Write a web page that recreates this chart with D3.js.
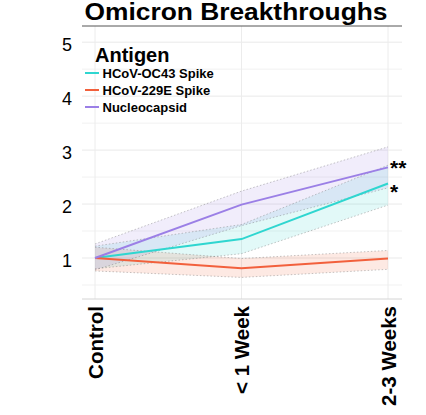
<!DOCTYPE html>
<html>
<head>
<meta charset="utf-8">
<script src="https://cdn.jsdelivr.net/npm/d3@7"></script>
<style>
  html, body { margin: 0; padding: 0; background: #fff; }
  svg { display: block; font-family: "Liberation Sans", Arial, sans-serif; }
</style>
</head>
<body>
<svg id="chart" width="426" height="415"></svg>
<script>
// Time points after infection
const categories = ["Control", "< 1 Week", "2-3 Weeks"];

// Fold change (mean) per antigen
const oc43Mean = [1.0, 1.35, 2.38];
const e229Mean = [1.0, 0.81, 0.99];
const ncMean   = [1.0, 1.99, 2.68];

// Confidence band bounds per antigen
const oc43Lower = [0.80, 1.08, 1.98];
const oc43Upper = [1.22, 1.62, 2.72];
const e229Lower = [0.76, 0.64, 0.79];
const e229Upper = [1.20, 0.99, 1.14];
const ncLower   = [0.78, 1.60, 2.30];
const ncUpper   = [1.26, 2.24, 3.06];

const seriesNames = ["HCoV-OC43 Spike", "HCoV-229E Spike", "Nucleocapsid"];
const seriesColors = ["#2fd6d0", "#f2603c", "#9b7fe6"];
const significance = ["*", "", "**"];

const yTicks = [1, 2, 3, 4, 5];

const series = [
  { name: seriesNames[0], color: seriesColors[0], mean: oc43Mean, lo: oc43Lower, hi: oc43Upper, sig: significance[0], nudge: 15 },
  { name: seriesNames[1], color: seriesColors[1], mean: e229Mean, lo: e229Lower, hi: e229Upper, sig: significance[1], nudge: 0 },
  { name: seriesNames[2], color: seriesColors[2], mean: ncMean,   lo: ncLower,   hi: ncUpper,   sig: significance[2], nudge: 8 }
];

const svg = d3.select("#chart");
const plot = { left: 82, right: 402, top: 26, bottom: 299 };

const x = d3.scalePoint().domain(categories).range([95, 388]);
const y = d3.scaleLinear().domain([0.24, 5.3]).range([plot.bottom, plot.top]);

// Grid
const grid = svg.append("g");
grid.selectAll("line.h")
  .data(d3.range(0.5, 5.01, 0.5))
  .join("line")
  .attr("x1", plot.left).attr("x2", plot.right)
  .attr("y1", d => y(d)).attr("y2", d => y(d))
  .attr("stroke", d => Number.isInteger(d) ? "#e9e9e9" : "#f1f1f1")
  .attr("stroke-width", 1);
grid.selectAll("line.v")
  .data(categories)
  .join("line")
  .attr("x1", d => x(d)).attr("x2", d => x(d))
  .attr("y1", plot.top).attr("y2", plot.bottom)
  .attr("stroke", "#ececec")
  .attr("stroke-width", 1);

// Frame lines
svg.append("line")
  .attr("x1", plot.left).attr("x2", plot.right)
  .attr("y1", plot.top).attr("y2", plot.top)
  .attr("stroke", "#555").attr("stroke-width", 1);
svg.append("line")
  .attr("x1", plot.left).attr("x2", plot.right)
  .attr("y1", plot.bottom).attr("y2", plot.bottom)
  .attr("stroke", "#d4d4d4").attr("stroke-width", 1);

// Bands
const area = d3.area()
  .x((d, i) => x(categories[i]))
  .y0(d => y(d[0]))
  .y1(d => y(d[1]));
const edge = d3.line()
  .x((d, i) => x(categories[i]))
  .y(d => y(d));

const bands = svg.append("g");
series.forEach(s => {
  const pts = s.lo.map((v, i) => [v, s.hi[i]]);
  bands.append("path")
    .attr("d", area(pts))
    .attr("fill", s.color)
    .attr("fill-opacity", 0.14);
});
series.forEach(s => {
  [s.lo, s.hi].forEach(b => {
    bands.append("path")
      .attr("d", edge(b))
      .attr("fill", "none")
      .attr("stroke", "#666")
      .attr("stroke-opacity", 0.55)
      .attr("stroke-width", 0.7)
      .attr("stroke-dasharray", "1.5,2");
  });
});

// Mean lines
const line = d3.line()
  .x((d, i) => x(categories[i]))
  .y(d => y(d));
svg.append("g").selectAll("path")
  .data(series)
  .join("path")
  .attr("d", s => line(s.mean))
  .attr("fill", "none")
  .attr("stroke", s => s.color)
  .attr("stroke-width", 2);

// Significance marks
svg.append("g").selectAll("text")
  .data(series.filter(s => s.sig))
  .join("text")
  .attr("x", x(categories[2]) + 2)
  .attr("y", s => y(s.mean[2]) + s.nudge)
  .attr("font-size", 21)
  .attr("font-weight", "bold")
  .attr("fill", "#000")
  .text(s => s.sig);

// Y axis labels
const yAxis = svg.append("g")
  .attr("transform", `translate(${plot.left},0)`)
  .call(d3.axisLeft(y).tickValues(yTicks).tickSize(0).tickPadding(10).tickFormat(d3.format("d")));
yAxis.select(".domain").remove();
yAxis.selectAll("text")
  .attr("font-size", 18)
  .attr("font-family", "'Liberation Sans', Arial, sans-serif")
  .attr("fill", "#000")
  .attr("dy", "0.45em");

// X axis labels
const xAxis = svg.append("g")
  .attr("transform", `translate(0,${plot.bottom})`)
  .call(d3.axisBottom(x).tickSize(0).tickPadding(0));
xAxis.select(".domain").remove();
xAxis.selectAll("text")
  .attr("font-size", 20.5)
  .attr("font-weight", "bold")
  .attr("font-family", "'Liberation Sans', Arial, sans-serif")
  .attr("fill", "#000")
  .attr("text-anchor", "end")
  .attr("transform", "rotate(-90)")
  .attr("x", -7)
  .attr("y", 0)
  .attr("dy", "0.36em");

// Title
svg.append("text")
  .attr("x", 236)
  .attr("y", 19.5)
  .attr("text-anchor", "middle")
  .attr("font-size", 23.5)
  .attr("font-weight", "bold")
  .attr("fill", "#000")
  .attr("textLength", 303)
  .attr("lengthAdjust", "spacingAndGlyphs")
  .text("Omicron Breakthroughs");

// Legend
const legend = svg.append("g");
legend.append("text")
  .attr("x", 95).attr("y", 62)
  .attr("font-size", 20)
  .attr("font-weight", "bold")
  .text("Antigen");
const items = legend.selectAll("g.item")
  .data(series)
  .join("g")
  .attr("transform", (d, i) => `translate(0,${73 + i * 17})`);
items.append("line")
  .attr("x1", 85).attr("x2", 99)
  .attr("y1", 0).attr("y2", 0)
  .attr("stroke", d => d.color)
  .attr("stroke-width", 2);
items.append("text")
  .attr("x", 102.5).attr("y", 0)
  .attr("dy", "0.36em")
  .attr("font-size", 13)
  .attr("font-weight", "bold")
  .text(d => d.name);
</script>
</body>
</html>
